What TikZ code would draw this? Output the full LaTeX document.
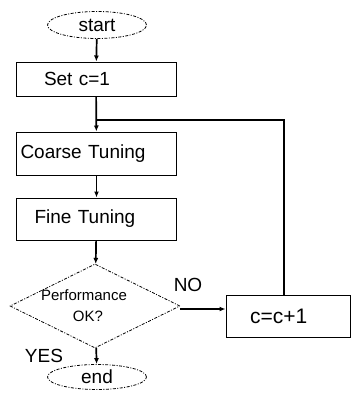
\documentclass[tikz,border=0pt]{standalone}
\usepackage{fontspec}
\setmainfont{Liberation Sans}
\usepackage{tikz}
\usetikzlibrary{arrows.meta,shapes.geometric}
\tikzset{
  every picture/.style={font=\fontsize{19}{21}\selectfont},
  term/.style={draw,ellipse,line width=0.8pt,dash pattern=on 3pt off 1.5pt on 1pt off 1.5pt,
    minimum width=99pt,minimum height=27pt,inner sep=0pt},
  box/.style={draw,line width=1pt,minimum height=42pt,text width=152pt,align=left,inner xsep=4pt},
  test/.style={draw,diamond,aspect=2,line width=0.8pt,dash pattern=on 3pt off 1.5pt on 1pt off 1.5pt,
    minimum width=170pt,minimum height=84pt,inner sep=0pt,align=center,
    font=\fontsize{15}{21}\selectfont},
  flow/.style={line width=1.7pt,-{Latex[length=6pt,width=5pt]}},
  back/.style={line width=1.3pt},
}
\begin{document}
\begin{tikzpicture}[x=1pt,y=-1pt]
  \useasboundingbox (0,0) rectangle (351,405);
  \node[term] (start) at (97,25) {start};
  \node[box,minimum height=34pt] (set) at (96,79) {\hspace*{24pt}Set c=1};
  \node[box,minimum height=43pt] (coarse) at (96.5,153.5) {Coarse Tuning};
  \node[box] (fine) at (96.5,219) {\hspace*{14pt}Fine Tuning};
  \node[test] (perf) at (95,306) {\hspace*{-22pt}Performance\\\hspace*{-14pt}OK?};
  \node[term,minimum height=25pt] (end) at (97,377) {end};
  \node[box,text width=116pt,font=\fontsize{21}{23}\selectfont] (incr) at (288,316) {\hspace*{20pt}c=c+1};
  \coordinate (join) at (96,120);
  \draw[flow] (start) -- (set);
  \draw[flow] (set) -- (coarse);
  \draw[flow] (coarse) -- (fine);
  \draw[flow] (fine) -- (perf);
  \draw[flow] (perf) -- (end);
  \draw[flow] ([yshift=-3pt]perf.east) -- ([yshift=-3pt]perf.east -| incr.west);
  \draw[back] ([xshift=-4pt]incr.north) |- (join);
  \node at (188,285) {NO};
  \node at (44,356) {YES};
\end{tikzpicture}
\end{document}
